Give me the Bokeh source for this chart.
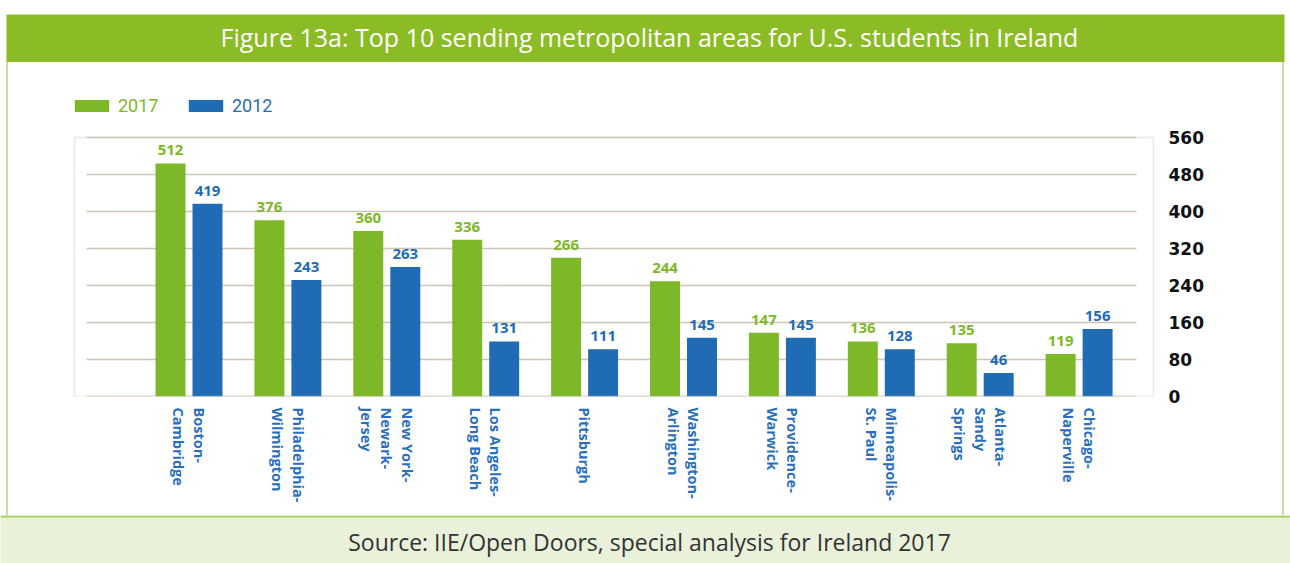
from bokeh.plotting import figure
from bokeh.layouts import column, row
from bokeh.models import (Range1d, FixedTicker, BoxAnnotation, Label, Legend,
                          LegendItem, ColumnDataSource, Div, Spacer)
from bokeh.transform import dodge
from bokeh.core.properties import value
from bokeh.embed import file_html
from bokeh.resources import INLINE
import math

# ---------------- data ----------------
metros = ["Boston-\nCambridge", "Philadelphia-\nWilmington", "New York-\nNewark-\nJersey",
          "Los Angeles-\nLong Beach", "Pittsburgh", "Washington-\nArlington",
          "Providence-\nWarwick", "Minneapolis-\nSt. Paul", "Atlanta-\nSandy\nSprings",
          "Chicago-\nNaperville"]
series = ["2017", "2012"]
# printed value labels
labels_2017 = [512, 376, 360, 336, 266, 244, 147, 136, 135, 119]
labels_2012 = [419, 243, 263, 131, 111, 145, 145, 128, 46, 156]
# bar heights as drawn in the picture
bars_2017 = [504, 381, 358, 339, 300, 249, 138, 119, 115, 92]
bars_2012 = [417, 252, 280, 119, 102, 127, 127, 102, 51, 146]
y_ticks = [0, 80, 160, 240, 320, 400, 480, 560]
title_text = "Figure 13a: Top 10 sending metropolitan areas for U.S. students in Ireland"
source_text = "Source: IIE/Open Doors, special analysis for Ireland 2017"

# ---------------- styles ----------------
GREEN = "#7db829"
BLUE = "#1f6cb5"
CAT_BLUE = "#2a6fbd"
HEADER = "#8bbc26"
FOOT_FILL = "#e9f1da"
FOOT_LINE = "#a3cf58"
BODY_LINE = "#c3dea0"
GRID = "#cbc4b7"
FONT = "Open Sans"

PAGE_W = 1290
HEAD_H = 62
BODY_H = 453
FOOT_H = 48

idx = list(range(len(metros)))
src = ColumnDataSource(dict(
    idx=idx,
    b17=bars_2017, b12=bars_2012,
    l17=[str(v) for v in labels_2017], l12=[str(v) for v in labels_2012],
))


def blank(w, h, bg):
    f = figure(width=w, height=h, x_range=Range1d(0, w), y_range=Range1d(0, h),
               x_axis_location=None, y_axis_location=None, toolbar_location=None,
               output_backend="svg", min_border=0, outline_line_color=None,
               background_fill_color=bg, border_fill_color=bg)
    f.xgrid.visible = False
    f.ygrid.visible = False
    return f


# ---------------- header ----------------
head = blank(PAGE_W, HEAD_H, "white")
head.add_layout(BoxAnnotation(left=6, right=1284, bottom=0, top=48,
                              fill_color=HEADER, fill_alpha=1, line_color=None))
head.add_layout(Label(x=649, y=26, text=title_text, text_align="center",
                      text_baseline="middle", text_color="white",
                      text_font=FONT, text_font_size="25px"))

# ---------------- main chart ----------------
MAIN_W = 1274           # page x 8 .. 1282
FRAME_L, FRAME_R = 8, 1154   # page x of the plotting frame
FRAME_T, FRAME_B = 62, 396   # page y of the plotting frame
SCALE_TOP = 137              # page y of the value 560
PITCH = 98.9                 # px between categories
FIRST = 188.5                # page x of first category centre


def ux(px):
    return (px - FIRST) / PITCH


y_top = 560 * (FRAME_B - FRAME_T) / (FRAME_B - SCALE_TOP)

p = figure(width=MAIN_W, height=BODY_H,
           x_range=Range1d(ux(FRAME_L), ux(FRAME_R)), y_range=Range1d(0, y_top),
           y_axis_location="right", toolbar_location=None, output_backend="svg",
           min_border_left=0, min_border_top=0,
           min_border_right=MAIN_W - (FRAME_R - FRAME_L),
           min_border_bottom=BODY_H - (FRAME_B - FRAME_T),
           background_fill_color="white", border_fill_color="white",
           outline_line_color=None)
p.xgrid.visible = False
p.ygrid.visible = False

# grid lines (inset from the plot box, as in the reference)
p.segment(x0=ux(86), x1=ux(1136), y0=y_ticks, y1=y_ticks,
          line_color=GRID, line_width=1.5)
# plot box
p.add_layout(BoxAnnotation(left=ux(74), right=ux(1153), bottom=0, top=max(y_ticks),
                           fill_alpha=0, line_color=GRID, line_width=2))

off = 0.187
bw = 0.303
r17 = p.vbar(x=dodge("idx", -off), top="b17", width=bw, source=src,
             fill_color=GREEN, line_color=None)
r12 = p.vbar(x=dodge("idx", off), top="b12", width=bw, source=src,
             fill_color=BLUE, line_color=None)

p.text(x=dodge("idx", -off), y="b17", text="l17", source=src,
       text_align="center", text_baseline="bottom", y_offset=-8,
       text_font=value(FONT), text_font_style="bold", text_font_size="15px",
       text_color=GREEN)
p.text(x=dodge("idx", off), y="b12", text="l12", source=src,
       text_align="center", text_baseline="bottom", y_offset=-8,
       text_font=value(FONT), text_font_style="bold", text_font_size="15px",
       text_color=BLUE)

# x axis (categories)
xa = p.xaxis[0]
xa.ticker = FixedTicker(ticks=idx)
xa.major_label_overrides = {i: m for i, m in enumerate(metros)}
xa.major_label_orientation = -math.pi / 2
xa.axis_line_color = None
xa.major_tick_line_color = None
xa.minor_tick_line_color = None
xa.major_tick_out = 0
xa.major_tick_in = 0
xa.major_label_standoff = 11
xa.major_label_text_font = FONT
xa.major_label_text_font_style = "bold"
xa.major_label_text_font_size = "14.5px"
xa.major_label_text_color = CAT_BLUE
xa.major_label_text_line_height = 1.07

# y axis (right)
ya = p.yaxis[0]
ya.ticker = FixedTicker(ticks=y_ticks)
ya.axis_line_color = None
ya.major_tick_line_color = None
ya.minor_tick_line_color = None
ya.major_tick_out = 0
ya.major_tick_in = 0
ya.major_label_standoff = 14
ya.major_label_text_font = "DejaVu Sans"
ya.major_label_text_font_style = "bold"
ya.major_label_text_font_size = "17px"
ya.major_label_text_color = "#111111"

# legends (one per series, each with its own text colour)
for rend, name, col, lx in [(r17, series[0], GREEN, 70), (r12, series[1], BLUE, 184)]:
    leg = Legend(items=[LegendItem(label=value(name), renderers=[rend])],
                 location=(lx - FRAME_L, FRAME_B - 116), orientation="horizontal",
                 glyph_width=43, glyph_height=15, label_height=15,
                 label_standoff=5, padding=0, margin=0, spacing=0,
                 border_line_color=None, background_fill_alpha=0,
                 label_text_color=col, label_text_font="Roboto",
                 label_text_font_size="18px")
    p.add_layout(leg)


def vline(w, h, color):
    return Div(width=w, height=h, margin=0,
               styles={"background-color": color})


body = row(Spacer(width=6, height=BODY_H, margin=0), vline(2, BODY_H, BODY_LINE), p,
           vline(2, BODY_H, BODY_LINE), Spacer(width=6, height=BODY_H, margin=0),
           spacing=0)

# ---------------- footer ----------------
foot = blank(PAGE_W, FOOT_H, FOOT_FILL)
foot.add_layout(BoxAnnotation(left=0, right=PAGE_W, bottom=FOOT_H - 2, top=FOOT_H,
                              fill_color=FOOT_LINE, fill_alpha=1, line_color=None))
foot.add_layout(Label(x=649, y=22, text=source_text, text_align="center",
                      text_baseline="middle", text_color="#333333",
                      text_font=FONT, text_font_size="23px"))

layout = column(head, body, foot, spacing=0)
open("out.html", "w").write(file_html(layout, INLINE))
